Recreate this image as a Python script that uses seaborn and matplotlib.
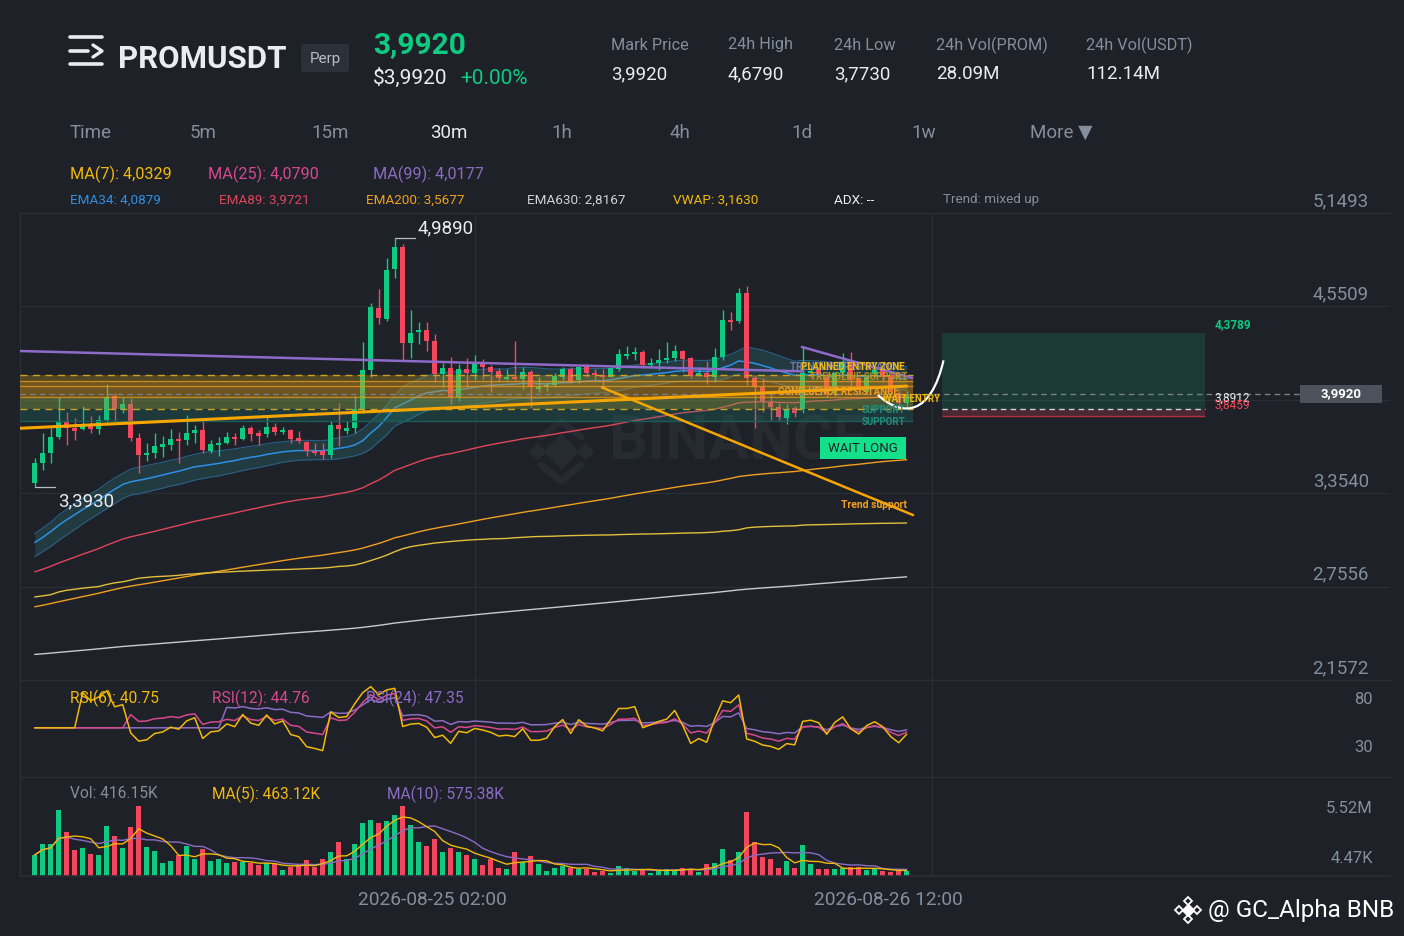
import numpy as np
import pandas as pd
import seaborn as sns
import matplotlib.pyplot as plt
import matplotlib.transforms as mtransforms
from matplotlib.patches import Rectangle, FancyBboxPatch, PathPatch
from matplotlib.path import Path

# ---- candles (30m) ----
opens = [3.422, 3.550, 3.614, 3.716, 3.819, 3.770, 3.765, 3.791, 3.763, 3.823,
         3.977, 3.891, 3.923, 3.710, 3.599, 3.609, 3.652, 3.663, 3.699, 3.695,
         3.738, 3.759, 3.627, 3.663, 3.674, 3.712, 3.701, 3.770, 3.738, 3.733,
         3.780, 3.744, 3.759, 3.706, 3.684, 3.627, 3.627, 3.599, 3.791, 3.755,
         3.770, 3.891, 4.143, 4.543, 4.468, 4.788, 4.934, 4.318, 4.389, 4.399,
         4.331, 4.118, 4.154, 3.972, 4.148, 4.122, 4.182, 4.165, 4.139, 4.084,
         4.096, 4.084, 4.133, 4.020, 4.032, 4.047, 4.096, 4.148, 4.079, 4.161,
         4.122, 4.111, 4.101, 4.148, 4.233, 4.246, 4.261, 4.175, 4.190, 4.205,
         4.218, 4.265, 4.218, 4.111, 4.126, 4.101, 4.225, 4.464, 4.460, 4.639,
         4.090, 4.032, 3.940, 3.904, 3.834, 3.898, 3.891, 4.122, 4.143, 4.101,
         3.994, 4.122, 4.197, 4.090, 4.005, 4.118, 4.143, 4.111, 3.994, 3.930]
highs = [3.577, 3.738, 3.770, 3.972, 3.876, 3.834, 3.913, 3.849, 3.855, 4.054,
         3.998, 3.972, 3.962, 3.742, 3.674, 3.738, 3.720, 3.763, 3.748, 3.855,
         3.791, 3.819, 3.695, 3.712, 3.748, 3.742, 3.791, 3.785, 3.759, 3.840,
         3.802, 3.780, 3.763, 3.755, 3.688, 3.674, 3.674, 3.819, 3.934, 3.819,
         3.977, 4.325, 4.575, 4.660, 4.863, 4.989, 4.951, 4.528, 4.453, 4.453,
         4.374, 4.190, 4.225, 4.182, 4.218, 4.240, 4.212, 4.175, 4.154, 4.148,
         4.329, 4.165, 4.143, 4.096, 4.069, 4.126, 4.165, 4.161, 4.165, 4.182,
         4.148, 4.148, 4.160, 4.276, 4.297, 4.289, 4.272, 4.218, 4.276, 4.325,
         4.304, 4.272, 4.225, 4.161, 4.203, 4.282, 4.528, 4.517, 4.667, 4.679,
         4.111, 4.090, 3.983, 3.930, 3.926, 3.913, 4.293, 4.165, 4.160, 4.122,
         4.130, 4.250, 4.261, 4.101, 4.118, 4.161, 4.160, 4.122, 4.015, 4.010]
lows = [3.393, 3.503, 3.545, 3.699, 3.663, 3.695, 3.759, 3.742, 3.733, 3.802,
        3.819, 3.870, 3.691, 3.481, 3.562, 3.577, 3.588, 3.631, 3.550, 3.663,
        3.674, 3.614, 3.609, 3.592, 3.669, 3.663, 3.695, 3.691, 3.663, 3.712,
        3.727, 3.733, 3.674, 3.674, 3.592, 3.599, 3.571, 3.577, 3.656, 3.733,
        3.742, 3.870, 4.101, 4.438, 4.460, 4.735, 4.203, 4.218, 4.310, 4.267,
        4.069, 4.037, 3.926, 3.947, 4.037, 4.079, 4.084, 4.005, 4.069, 4.079,
        4.079, 4.020, 3.909, 4.000, 4.011, 4.032, 4.079, 4.058, 4.058, 4.101,
        4.079, 4.026, 4.096, 4.139, 4.212, 4.207, 4.154, 4.160, 4.143, 4.190,
        4.203, 4.133, 4.090, 4.105, 4.054, 4.069, 4.207, 4.400, 4.447, 4.050,
        3.773, 3.876, 3.823, 3.823, 3.800, 3.840, 3.866, 4.101, 4.100, 3.973,
        3.980, 4.101, 4.015, 4.000, 3.983, 4.101, 4.069, 3.983, 3.908, 3.905]
closes = [3.550, 3.614, 3.716, 3.819, 3.770, 3.755, 3.795, 3.763, 3.823, 3.972,
          3.891, 3.923, 3.706, 3.599, 3.609, 3.656, 3.667, 3.699, 3.686, 3.738,
          3.759, 3.631, 3.669, 3.674, 3.712, 3.699, 3.770, 3.733, 3.723, 3.780,
          3.744, 3.759, 3.699, 3.688, 3.627, 3.614, 3.599, 3.791, 3.763, 3.770,
          3.891, 4.143, 4.545, 4.474, 4.784, 4.934, 4.318, 4.383, 4.399, 4.331,
          4.118, 4.154, 3.972, 4.148, 4.122, 4.182, 4.161, 4.133, 4.090, 4.096,
          4.084, 4.133, 4.037, 4.037, 4.047, 4.105, 4.148, 4.069, 4.161, 4.122,
          4.111, 4.096, 4.158, 4.246, 4.246, 4.261, 4.175, 4.190, 4.207, 4.218,
          4.265, 4.212, 4.105, 4.126, 4.101, 4.225, 4.464, 4.453, 4.639, 4.090,
          4.032, 3.940, 3.908, 3.840, 3.891, 3.870, 4.122, 4.139, 4.115, 3.994,
          4.122, 4.197, 4.079, 4.015, 4.101, 4.143, 4.101, 4.005, 3.930, 3.992]
# volume in millions
volumes = [1.66, 2.50, 2.50, 5.20, 3.50, 2.05, 2.24, 1.71, 1.66, 3.95,
           3.16, 2.18, 3.84, 5.50, 2.26, 2.00, 1.00, 1.21, 1.66, 2.37,
           1.34, 2.13, 1.21, 1.37, 1.00, 1.13, 1.08, 1.00, 0.87, 1.00,
           0.95, 0.47, 0.74, 0.87, 1.26, 0.74, 1.32, 1.87, 2.71, 1.32,
           2.50, 4.16, 4.42, 4.16, 4.37, 4.82, 5.52, 4.03, 2.71, 2.37,
           2.92, 1.92, 2.24, 1.87, 1.66, 1.32, 0.87, 1.32, 0.60, 0.53,
           1.92, 1.13, 1.60, 0.95, 0.40, 0.66, 0.79, 0.66, 0.55, 0.53,
           0.32, 0.40, 0.21, 0.82, 0.60, 0.40, 0.53, 0.26, 0.47, 0.53,
           0.47, 0.66, 0.53, 0.32, 0.95, 1.00, 2.10, 1.26, 1.92, 5.03,
           2.71, 1.47, 1.34, 0.60, 1.18, 0.60, 2.45, 0.95, 0.53, 0.53,
           0.53, 0.60, 0.68, 0.74, 0.47, 0.53, 0.42, 0.34, 0.47, 0.416]

# indicator start values (carried in from history before the first candle)
EMA_SEEDS = {'EMA34': 3.007, 'EMA34_H': 3.065, 'EMA34_L': 2.921,
             'EMA89': 2.834, 'EMA200': 2.617, 'EMA630': 2.317}
VWAP_START, VWAP_END = 2.685, 3.163

# drawn objects on the chart
zone_levels = {'zone_top': 4.109, 'or_top': 4.0745, 'or_mid': 4.0424,
               'or_bot': 3.968, 'zone_bot': 3.8916, 'sup_bot': 3.8186}
trend_purple_a = ([-1.84, 95.9], [4.265, 4.135])
trend_purple_b = ([95.9, 109.7], [4.291, 4.092])
trend_orange = ([-1.84, 109.0], [3.770, 4.040])
trend_support = ([70.9, 109.8], [4.032, 3.214])
last_price = 3.992
proj_x = (113.4, 146.3)
proj_tp, proj_entry, proj_sl = 4.3789, 3.8912, 3.8459

price_ticks = [5.1493, 4.5509, 3.9525, 3.3540, 2.7556, 2.1572]
price_tick_labels = ['5,1493', '4,5509', '', '3,3540', '2,7556', '2,1572']
date_labels = ['2026-08-25 02:00', '2026-08-26 12:00']
grid_x = [55.04, 112.16]

BG = '#1e2128'
GRID = '#2a2e35'
UP = '#0ecb81'
DOWN = '#f6465d'
TXT = '#eaecef'
MUTED = '#848e9c'
YEL = '#f0b90b'
PINK = '#d6498f'
PURP = '#8c6bc4'

sns.set_theme(style='dark', rc={'axes.facecolor': BG, 'figure.facecolor': BG,
                                'axes.edgecolor': GRID, 'axes.grid': False})
plt.rcParams['font.family'] = ['Roboto', 'DejaVu Sans']

df = pd.DataFrame({'open': opens, 'high': highs, 'low': lows,
                   'close': closes, 'vol': volumes})
df['i'] = np.arange(len(df))
up = df.close >= df.open
colors = np.where(up, UP, DOWN)


def ema(values, span, seed):
    s = pd.Series(np.r_[seed, values])
    return s.ewm(span=span, adjust=False).mean().to_numpy()[1:]


def rsi(close, n):
    d = pd.Series(close).diff()
    g = d.clip(lower=0)
    l = (-d).clip(lower=0)
    ag = g.ewm(alpha=1 / n, adjust=False, min_periods=n).mean()
    al = l.ewm(alpha=1 / n, adjust=False, min_periods=n).mean()
    return (100 * ag / (ag + al)).fillna(50).to_numpy()


df['ema34'] = ema(df.close, 34, EMA_SEEDS['EMA34'])
df['ema34h'] = ema(df.high, 34, EMA_SEEDS['EMA34_H'])
df['ema34l'] = ema(df.low, 34, EMA_SEEDS['EMA34_L'])
df['ema89'] = ema(df.close, 89, EMA_SEEDS['EMA89'])
df['ema200'] = ema(df.close, 200, EMA_SEEDS['EMA200'])
df['ema630'] = ema(df.close, 630, EMA_SEEDS['EMA630'])
tp = (df.high + df.low + df.close) / 3
pv = np.cumsum(tp * df.vol)
cv = np.cumsum(df.vol)
v0 = (pv.iloc[-1] - VWAP_END * cv.iloc[-1]) / (VWAP_END - VWAP_START)
df['vwap'] = (VWAP_START * v0 + pv) / (v0 + cv)
df['rsi6'] = rsi(df.close, 6)
df['rsi12'] = rsi(df.close, 12)
df['rsi24'] = rsi(df.close, 24)
df['vma5'] = df.vol.rolling(5, min_periods=1).mean()
df['vma10'] = df.vol.rolling(10, min_periods=1).mean()

W, H = 1404, 936
fig = plt.figure(figsize=(W / 100, H / 100), dpi=100)


def px_axes(x0, y0, x1, y1):
    return fig.add_axes([x0 / W, 1 - y1 / H, (x1 - x0) / W, (y1 - y0) / H])


ax = px_axes(20, 213, 1390, 680)
ax_rsi = px_axes(20, 680, 1390, 777)
ax_vol = px_axes(20, 777, 1390, 876)
ov = fig.add_axes([0, 0, 1, 1])
ov.set_xlim(0, W)
ov.set_ylim(H, 0)
ov.axis('off')

XL = (20 - 34.7) / 8
XR = XL + 1370 / 8
for a in (ax, ax_rsi, ax_vol):
    a.set_xlim(XL, XR)
    a.set_xticks([])
    a.set_yticks([])
    for s in ('right', 'bottom'):
        a.spines[s].set_visible(False)
    for s in ('left', 'top'):
        a.spines[s].set_color(GRID)
        a.spines[s].set_linewidth(1)
    for gx in grid_x:
        a.axvline(gx, color=GRID, lw=0.9, zorder=0.5)
ax_vol.spines['bottom'].set_visible(True)
ax_vol.spines['bottom'].set_color(GRID)

# ---- main panel ----
ax.set_ylim(2.1572, 5.1493)
for v in price_ticks:
    ax.axhline(v, color=GRID, lw=0.9, zorder=0.5)

ax.fill_between(df.i, df.ema34l, df.ema34h, color='#2a8a8a', alpha=0.25, lw=0, zorder=1.5)
sns.lineplot(x=df.i, y=df.ema34h, ax=ax, color='#2b5f86', lw=0.8, zorder=1.6)
sns.lineplot(x=df.i, y=df.ema34l, ax=ax, color='#2b5f86', lw=0.8, zorder=1.6)
sns.lineplot(x=df.i, y=df.ema34, ax=ax, color='#2f8fe6', lw=1.1, zorder=2)
sns.lineplot(x=df.i, y=df.ema89, ax=ax, color='#e0455a', lw=1.0, zorder=2)
sns.lineplot(x=df.i, y=df.ema200, ax=ax, color='#f0a020', lw=1.0, zorder=2)
sns.lineplot(x=df.i, y=df.vwap, ax=ax, color='#e2bf3c', lw=1.0, zorder=2)
sns.lineplot(x=df.i, y=df.ema630, ax=ax, color='#c8cbd0', lw=1.0, zorder=2)

ax.vlines(df.i, df.low, df.high, colors=colors, lw=1, zorder=3)
body = (df.close - df.open).abs().clip(lower=0.008)
ax.bar(df.i, body, bottom=np.minimum(df.open, df.close), width=0.62,
       color=colors, lw=0, zorder=4)

zl = zone_levels
zx = [XL, 109.8]
ax.fill_between(zx, zl['zone_bot'], zl['zone_top'], color='#d4a017', alpha=0.3, lw=0, zorder=5)
ax.fill_between(zx, zl['or_bot'], zl['or_top'], color='#e8901a', alpha=0.18, lw=0, zorder=5)
ax.fill_between(zx, zl['sup_bot'], zl['or_bot'], color='#1a9a8a', alpha=0.2, lw=0, zorder=5)
for k in ('zone_top', 'zone_bot'):
    ax.hlines(zl[k], zx[0], zx[1], colors='#c9a227', lw=1, linestyles=(0, (5, 4)), zorder=5.2)
for k in ('or_top', 'or_mid', 'or_bot'):
    ax.hlines(zl[k], zx[0], zx[1], colors='#e89a1e', lw=1, alpha=0.75, zorder=5.2)
ax.hlines(zl['sup_bot'], zx[0], zx[1], colors='#1d5b56', lw=1, zorder=5.2)

ax.plot(*trend_purple_a, color='#8e6bc9', lw=1.8, zorder=6)
ax.plot(*trend_purple_b, color='#8e6bc9', lw=1.8, zorder=6)
ax.plot(*trend_orange, color='#f7a600', lw=2.2, zorder=6)
ax.plot(*trend_support, color='#f7a600', lw=1.8, zorder=6)

# projection (long position tool)
ax.add_patch(Rectangle((proj_x[0], proj_entry), proj_x[1] - proj_x[0], proj_tp - proj_entry,
                       fc=UP, alpha=0.15, lw=0, zorder=1))
ax.add_patch(Rectangle((proj_x[0], proj_sl), proj_x[1] - proj_x[0], proj_entry - proj_sl,
                       fc=DOWN, alpha=0.2, lw=0, zorder=1))
ax.hlines(proj_sl, *proj_x, colors='#b03040', lw=1, zorder=1.2)
ax.hlines(proj_entry, *proj_x, colors='#cfd3d8', lw=1, linestyles=(0, (4, 3)), zorder=1.2)
ax.text(147.5, proj_tp + 0.015, '4,3789', color=UP, fontsize=8.5, fontweight='bold', va='bottom', zorder=7)
ax.text(147.5, proj_entry + 0.032, '3,8912', color=TXT, fontsize=8.5, va='bottom', zorder=7)
ax.text(147.5, proj_sl + 0.032, '3,8459', color=DOWN, fontsize=8.5, va='bottom', zorder=7)

# projected path
curve = Path([(105.4, 3.983), (108.5, 3.84), (112.0, 3.85), (113.6, 4.205)],
             [Path.MOVETO, Path.CURVE4, Path.CURVE4, Path.CURVE4])
ax.add_patch(PathPatch(curve, fc='none', ec='white', lw=1.6, zorder=6.5))

# last price line and tag
ax.axhline(last_price, xmin=0, xmax=(1300 - 20) / 1370, color='#7a808a', lw=1,
           ls=(0, (4, 3)), zorder=5.5)
blend = mtransforms.blended_transform_factory(ax.transAxes, ax.transData)
ax.add_patch(Rectangle(((1300 - 20) / 1370, last_price - 9 * 0.006407), 82 / 1370, 18 * 0.006407,
                       transform=blend, fc='#4b525c', ec='none', zorder=8, clip_on=False))
ax.text((1341 - 20) / 1370, last_price, '3,9920', transform=blend, ha='center', va='center',
        color='white', fontsize=9.5, fontweight='bold', zorder=9)

lab_tr = mtransforms.offset_copy(blend, fig=fig, x=0, y=12, units='dots')
for v, s in zip(price_ticks, price_tick_labels):
    ax.text((1369 - 20) / 1370, v, s, transform=lab_tr, ha='right', va='center',
            color=MUTED, fontsize=13.5, zorder=9)

# high / low markers
ih = int(df.high.idxmax())
il = int(df.low.idxmin())
ax.plot([ih, ih + 2.5], [df.high[ih]] * 2, color='#b7bdc6', lw=0.9, zorder=7)
ax.annotate('4,9890', (ih + 2.5, df.high[ih]), xytext=(3, 10), textcoords='offset pixels',
            color=TXT, fontsize=13.5, va='center', zorder=7)
ax.plot([il, il + 2.5], [df.low[il]] * 2, color='#b7bdc6', lw=0.9, zorder=7)
ax.annotate('3,3930', (il + 2.5, df.low[il]), xytext=(3, -14), textcoords='offset pixels',
            color=TXT, fontsize=13.5, va='center', zorder=7)

# watermark behind the plot
ax.text(608, 442, 'BINANCE', transform=ov.transData, fontsize=44, fontweight='bold',
        color='#262a31', va='center', ha='left', zorder=1)
ax.plot([561], [451], marker='D', ms=17, color='#262a31', transform=ov.transData, zorder=1)
for dx, dy in ((-24, 0), (24, 0)):
    ax.plot([561 + dx], [451 + dy], marker='D', ms=8, color='#262a31', transform=ov.transData, zorder=1)
ax.plot([541, 561, 581], [437, 421, 437], color='#262a31', lw=5, transform=ov.transData, zorder=1)
ax.plot([541, 561, 581], [465, 481, 465], color='#262a31', lw=5, transform=ov.transData, zorder=1)

# ---- RSI panel ----
ax_rsi.set_ylim(-1.25, 99.8)
sns.lineplot(x=df.i, y=df.rsi24, ax=ax_rsi, color=PURP, lw=1.1)
sns.lineplot(x=df.i, y=df.rsi12, ax=ax_rsi, color=PINK, lw=1.1)
sns.lineplot(x=df.i, y=df.rsi6, ax=ax_rsi, color=YEL, lw=1.1)
rblend = mtransforms.blended_transform_factory(ax_rsi.transAxes, ax_rsi.transData)
for v in (80, 30):
    ax_rsi.text((1373 - 20) / 1370, v, str(v), transform=rblend, ha='right', va='center',
                color=MUTED, fontsize=12)

# ---- volume panel ----
ax_vol.set_ylim(0, 7.81)
ax_vol.bar(df.i, df.vol, width=0.62, color=colors, lw=0, zorder=2)
sns.lineplot(x=df.i, y=df.vma10, ax=ax_vol, color=PURP, lw=1.0, zorder=3)
sns.lineplot(x=df.i, y=df.vma5, ax=ax_vol, color=YEL, lw=1.0, zorder=3)
vblend = mtransforms.blended_transform_factory(ax_vol.transAxes, ax_vol.transData)
vtop = mtransforms.offset_copy(vblend, fig=fig, x=0, y=-2, units='dots')
ax_vol.text((1373 - 20) / 1370, df.vol.max(), '5.52M', transform=vtop, ha='right',
            va='center', color=MUTED, fontsize=12)
vlow = mtransforms.offset_copy(vblend, fig=fig, x=0, y=17, units='dots')
ax_vol.text((1373 - 20) / 1370, 0.00447, '4.47K', transform=vlow, ha='right',
            va='center', color=MUTED, fontsize=12)

for a in (ax, ax_rsi, ax_vol):
    a.set_xlabel('')
    a.set_ylabel('')

# ---- header and labels (pixel coordinates) ----
ic = '#eaecef'
ov.plot([70, 102], [37, 37], color=ic, lw=2.6, solid_capstyle='round')
ov.plot([70, 88], [51, 51], color=ic, lw=2.6, solid_capstyle='round')
ov.plot([70, 102], [64, 64], color=ic, lw=2.6, solid_capstyle='round')
ov.plot([93, 102, 93], [45, 51, 57], color=ic, lw=2.4, solid_capstyle='round')
ov.text(118, 59, 'PROMUSDT', color=TXT, fontsize=22.5, fontweight='bold', va='center')
ov.add_patch(FancyBboxPatch((301, 44), 48, 28, boxstyle='round,pad=0,rounding_size=3',
                            fc='#2b3139', ec='none'))
ov.text(325, 59, 'Perp', color='#b7bdc6', fontsize=11, ha='center', va='center')
ov.text(373, 45, '3,9920', color=UP, fontsize=21.5, fontweight='bold', va='center')
ov.text(373, 78, '$3,9920', color=TXT, fontsize=15, va='center')
ov.text(460, 78, '+0.00%', color=UP, fontsize=15, va='center')

stat_names = ['Mark Price', '24h High', '24h Low', '24h Vol(PROM)', '24h Vol(USDT)']
stat_values = ['3,9920', '4,6790', '3,7730', '28.09M', '112.14M']
stat_x = [611, 728, 834, 936, 1086]
for x, n, v in zip(stat_x, stat_names, stat_values):
    ov.text(x, 45, n, color=MUTED, fontsize=11.7, va='center')
    ov.text(x, 74, v, color=TXT, fontsize=13.5, va='center')

frames = ['Time', '5m', '15m', '30m', '1h', '4h', '1d', '1w', 'More ▼']
frame_x = [70, 190, 311, 430, 551, 670, 791, 911, 1030]
for x, f in zip(frame_x, frames):
    ov.text(x, 133, f, color=TXT if f == '30m' else MUTED, fontsize=13.5, va='center')

row1 = [('MA(7): 4,0329', YEL, 70), ('MA(25): 4,0790', PINK, 208), ('MA(99): 4,0177', PURP, 373)]
for s, c, x in row1:
    ov.text(x, 174, s, color=c, fontsize=11.7, va='center')
row2 = [('EMA34: 4,0879', '#2f8fe6', 70), ('EMA89: 3,9721', '#e0455a', 219),
        ('EMA200: 3,5677', '#f0a020', 366), ('EMA630: 2,8167', '#d0d3d8', 527),
        ('VWAP: 3,1630', YEL, 673), ('ADX: --', TXT, 834), ('Trend: mixed up', MUTED, 943)]
for s, c, x in row2:
    ov.text(x, 200, s, color=c, fontsize=9.7, va='center')

for s, c, x in [('RSI(6): 40.75', YEL, 70), ('RSI(12): 44.76', PINK, 212),
                ('RSI(24): 47.35', PURP, 366)]:
    ov.text(x, 698, s, color=c, fontsize=11.2, va='center')
for s, c, x in [('Vol: 416.15K', MUTED, 70), ('MA(5): 463.12K', YEL, 212),
                ('MA(10): 575.38K', PURP, 387)]:
    ov.text(x, 794, s, color=c, fontsize=11.2, va='center')

for x, s in zip([432, 888], date_labels):
    ov.text(x, 900, s, color=MUTED, fontsize=13.8, ha='center', va='center')

# chart annotations
ann = dict(fontsize=7, fontweight='bold', va='center')
ov.text(790, 367, 'TRENDLINE RESISTANCE', color='#7e76a6', **ann)
ov.text(905, 367, 'PLANNED ENTRY ZONE', color=YEL, ha='right', **ann)
ov.text(907, 377, 'TRENDLINE SUPPORT', color='#c79a1c', ha='right', alpha=0.85, **ann)
ov.text(778, 392, 'CONFLUENCE RESISTANCE', color='#f0a020', **ann)
ov.text(883, 399, 'WAIT ENTRY', color=YEL, **ann)
ov.text(905, 410, 'SUPPORT', color='#1f8f7f', ha='right', **ann)
ov.text(905, 422, 'SUPPORT', color='#1f8f7f', ha='right', **ann)
ov.add_patch(Rectangle((820, 437), 86, 22, fc='#14e08a', ec='none'))
ov.text(863, 448, 'WAIT LONG', color='#1e2329', fontsize=9.5, ha='center', va='center')
ov.text(907, 505, 'Trend support', color='#f0a020', fontsize=7.5, fontweight='bold',
        ha='right', va='center')

# credit with logo
ov.plot([1188], [910], marker='D', ms=6.5, color='white')
for dx, dy in ((-9, 0), (9, 0), (0, -9), (0, 9)):
    ov.plot([1188 + dx], [910 + dy], marker='D', ms=4.5, mfc='none', mec='white', mew=1.3)
ov.text(1208, 910, '@ GC_Alpha BNB', color='white', fontsize=17.5, va='center')

fig.savefig('out.png', dpi=100, facecolor=BG)
